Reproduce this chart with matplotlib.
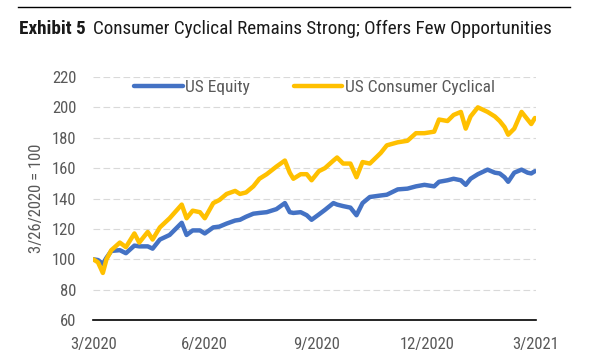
import numpy as np
import pandas as pd
import matplotlib
matplotlib.use("Agg")
import matplotlib.pyplot as plt

# Days after 3/26/2020, indexed to 100
days = [0, 4, 8, 11, 15, 22, 27, 34, 38, 45, 49, 55, 63, 73, 77, 82, 88, 92,
        99, 104, 110, 117, 121, 126, 132, 137, 143, 151, 158, 162, 165, 171,
        176, 180, 186, 191, 198, 201, 206, 212, 217, 222, 228, 237, 242, 251,
        259, 266, 273, 281, 285, 292, 297, 303, 307, 311, 317, 325, 331, 335,
        339, 342, 347, 353, 358, 361, 364]
us_equity = [100, 99.5, 97, 101, 105.5, 106, 104, 109, 108.5, 108.5, 107, 113,
             116, 124, 116, 119, 119, 117, 121, 121.5, 123.5, 125.5, 126, 128,
             130, 130.5, 131, 133, 137, 131, 130.5, 131, 129, 126, 129.5, 132.5,
             137, 136, 135, 134, 129, 137, 141, 142, 142.5, 146, 146.5, 148, 149,
             148, 151, 152, 153, 152, 149, 153, 156, 159, 157, 156.5, 154, 151,
             157, 159, 157, 156.5, 158]
us_cons_cyc = [100, 98, 91, 100, 106, 111, 108, 117, 111, 118, 113, 121, 127,
               136, 127, 132, 131, 127, 137, 139, 143, 145, 143, 144, 148, 153,
               156, 161, 165, 157, 153, 156, 156, 152, 158, 160, 165, 167, 163,
               163, 154, 164, 163, 170, 175, 177, 178, 183, 183, 184, 192, 191,
               195, 197, 186, 194, 200, 197, 194, 191, 187, 182, 186, 197, 192,
               189, 193]

y_ticks = [60, 80, 100, 120, 140, 160, 180, 200, 220]
x_ticks = ["2020-03-26", "2020-06-26", "2020-09-26", "2020-12-26", "2021-03-26"]
x_labels = ["3/2020", "6/2020", "9/2020", "12/2020", "3/2021"]

FONT = ["Roboto Condensed", "DejaVu Sans"]
plt.rcParams["font.family"] = FONT
GREY = "#595959"

start = pd.Timestamp("2020-03-26")
dates = start + pd.to_timedelta(days, unit="D")

fig = plt.figure(figsize=(5.97, 3.58), dpi=100)
ax = fig.add_axes([0.156, 0.106, 0.742, 0.679])

ax.plot(dates, us_equity, color="#4472C4", lw=3.2, label="US Equity",
        solid_capstyle="round", solid_joinstyle="round")
ax.plot(dates, us_cons_cyc, color="#FFC000", lw=3.2, label="US Consumer Cyclical",
        solid_capstyle="round", solid_joinstyle="round")

ax.set_ylim(60, 220)
ax.set_xlim(pd.Timestamp(x_ticks[0]), pd.Timestamp(x_ticks[-1]))
ax.set_yticks(y_ticks)
ax.set_xticks(pd.to_datetime(x_ticks))
ax.set_xticklabels(x_labels)
ax.tick_params(axis="both", length=0, labelsize=12, colors=GREY)
ax.tick_params(axis="y", pad=12)
ax.tick_params(axis="x", pad=12)

ax.grid(axis="y", color="#d9d9d9", lw=0.8, ls=(0, (6, 3)))
ax.set_axisbelow(True)
for s in ["left", "right", "top"]:
    ax.spines[s].set_visible(False)
ax.spines["bottom"].set_color("black")
ax.spines["bottom"].set_linewidth(1.2)

ax.set_ylabel("3/26/2020 = 100", fontsize=12, color=GREY, labelpad=6)

leg = ax.legend(loc="center", bbox_to_anchor=(0.5, 0.955), ncol=2,
                frameon=False, fontsize=12.5, handlelength=2.8, handletextpad=0.15,
                columnspacing=2.5, borderaxespad=0)
for t in leg.get_texts():
    t.set_color(GREY)
for h in leg.get_lines():
    h.set_linewidth(3.2)

# header rule and title
fig.add_artist(plt.Line2D([18 / 597, 570 / 597], [1 - 7 / 358, 1 - 7 / 358],
                          color="black", lw=1.0))
t1 = fig.text(19 / 597, 1 - 29 / 358, "Exhibit 5", fontsize=13.8, fontweight="bold",
              color="#1a1a1a", va="center")
fig.canvas.draw()
bb = t1.get_window_extent(fig.canvas.get_renderer())
fig.text((bb.x1 + 7) / 597, 1 - 29 / 358,
         "Consumer Cyclical Remains Strong; Offers Few Opportunities",
         fontsize=13.8, color="#1a1a1a", va="center")

fig.savefig("out.png", dpi=100)
